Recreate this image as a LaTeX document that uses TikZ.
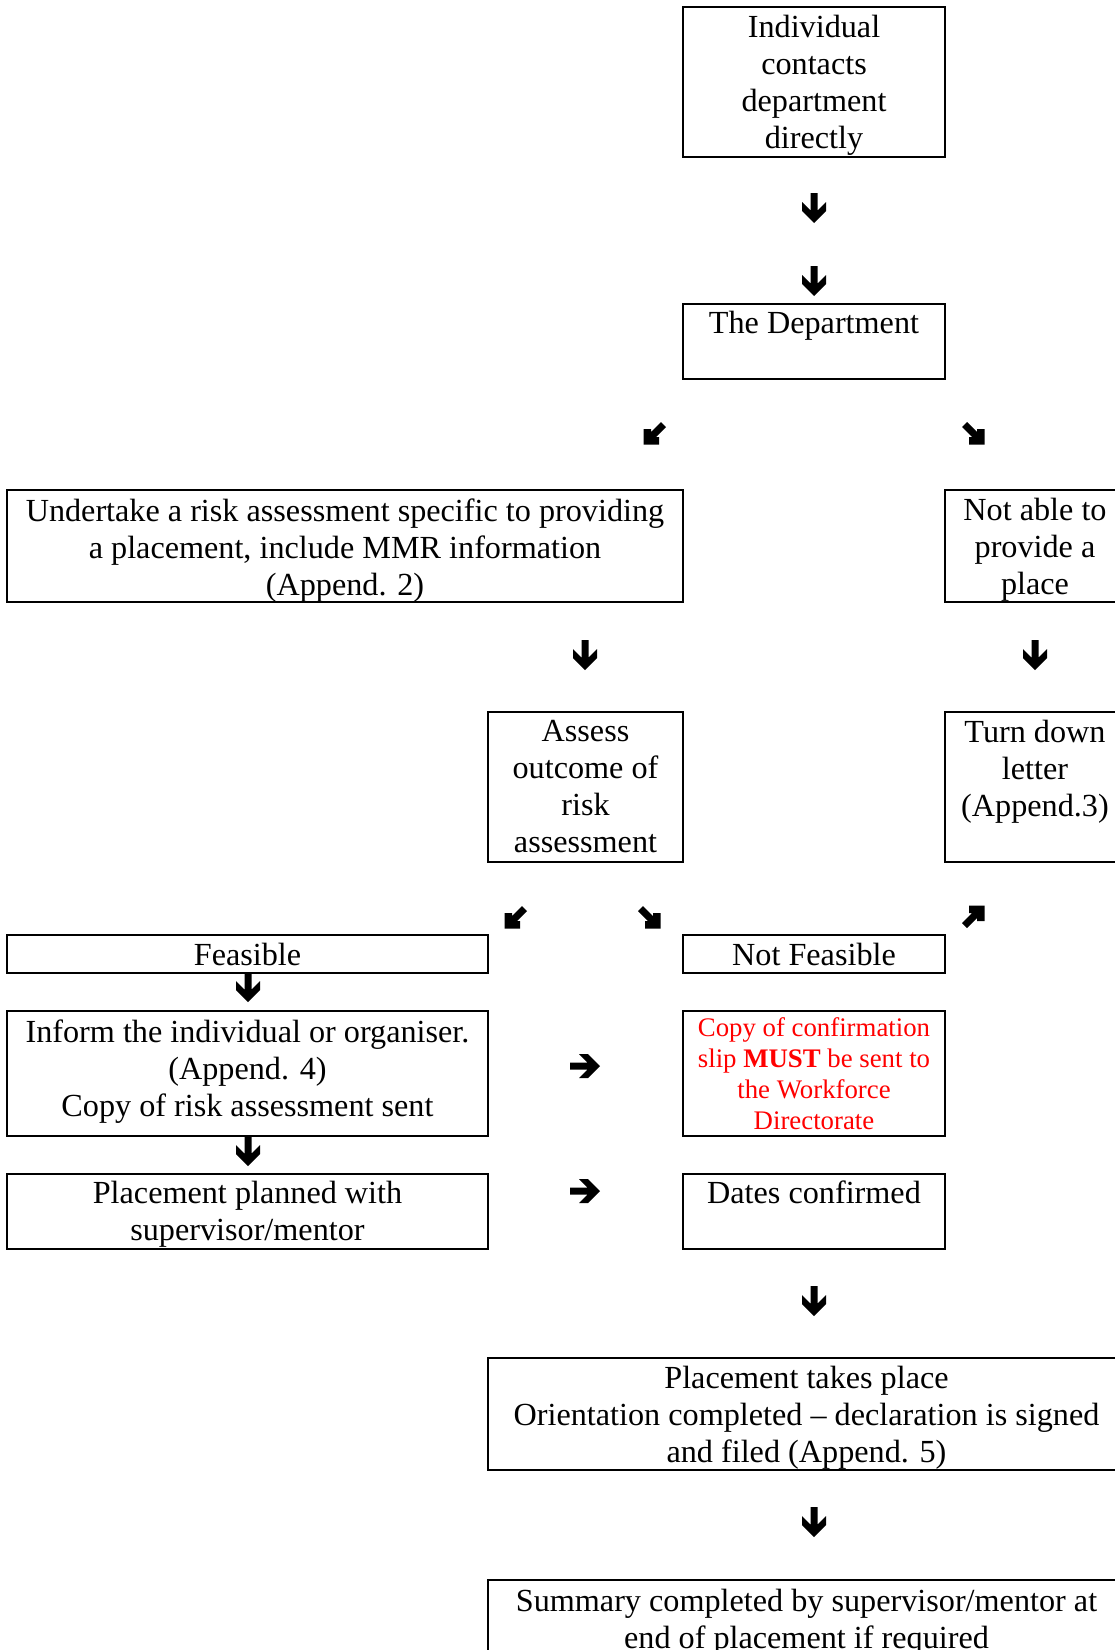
\documentclass[tikz,border=0pt]{standalone}
\usepackage{fontspec}
\setmainfont{Liberation Serif}
\definecolor{alertred}{RGB}{255,0,0}
\begin{document}
\begin{tikzpicture}[x=1pt,y=1pt,
  box/.style={draw=black, line width=2pt, rectangle, inner sep=0pt, outer sep=0pt},
  txt/.style={anchor=north, inner sep=0pt, align=center, font=\fontsize{32.2}{37}\selectfont, execute at begin node=\strut},
  redtxt/.style={anchor=north, inner sep=0pt, align=center, text=alertred, font=\fontsize{26.8}{30.8}\selectfont, execute at begin node=\strut},
  darr/.pic={\fill[black] (-3.5,15) -- (3.5,15) -- (3.5,-2.5) -- (12,6) -- (12,-3) -- (0,-15) -- (-12,-3) -- (-12,6) -- (-3.5,-2.5) -- cycle;},
  narr/.pic={\fill[black] (11.5,11.5) -- (-4,11.5) -- (-4,4) -- (-1,4) -- (-11,-6) -- (-6,-11) -- (4,-1) -- (4,-4) -- (11.5,-4) -- cycle;}
]
\useasboundingbox (0,0) rectangle (1115,-1650);
\clip (0,0) rectangle (1115,-1650);

% boxes
\node[box, minimum width=262, minimum height=150] (b1) at (814,-82) {};
\node[box, minimum width=262, minimum height=75] (b2) at (814,-341.5) {};
\node[box, minimum width=676, minimum height=112] (b3) at (345,-546) {};
\node[box, minimum width=180, minimum height=112] (b4) at (1035,-546) {};
\node[box, minimum width=195, minimum height=150] (b5) at (585.5,-787) {};
\node[box, minimum width=180, minimum height=150] (b6) at (1035,-787) {};
\node[box, minimum width=481, minimum height=38] (b7) at (247.5,-954) {};
\node[box, minimum width=262, minimum height=38] (b8) at (814,-954) {};
\node[box, minimum width=481, minimum height=125] (b9) at (247.5,-1073.5) {};
\node[box, minimum width=262, minimum height=125] (b10) at (814,-1073.5) {};
\node[box, minimum width=481, minimum height=75] (b11) at (247.5,-1211.5) {};
\node[box, minimum width=262, minimum height=75] (b12) at (814,-1211.5) {};
\node[box, minimum width=637, minimum height=112] (b13) at (806.5,-1414) {};
\node[box, minimum width=637, minimum height=120] (b14) at (806.5,-1640) {};

% texts
\node[txt] (t1) at ([yshift=-8.4pt]b1.north) {Individual\\contacts\\department\\directly};
\node[txt] (t2) at ([yshift=-3.6pt]b2.north) {The Department};
\node[txt] (t3) at ([yshift=-8.2pt]b3.north) {Undertake a risk assessment specific to providing\\a placement, include MMR information\\(Append. 2)};
\node[txt] (t4) at ([yshift=-8.2pt]b4.north) {Not able to\\provide a\\place};
\node[txt] (t5) at ([yshift=-8.2pt]b5.north) {Assess\\outcome of\\risk\\assessment};
\node[txt] (t6) at ([yshift=-8.2pt]b6.north) {Turn down\\letter\\(Append.3)};
\node[txt] (t7) at ([yshift=-4.2pt]b7.north) {Feasible};
\node[txt] (t8) at ([yshift=-4.2pt]b8.north) {Not Feasible};
\node[txt] (t9) at ([yshift=-8.2pt]b9.north) {Inform the individual or organiser.\\(Append. 4)\\Copy of risk assessment sent};
\node[redtxt] (t10) at ([yshift=-6.6pt]b10.north) {Copy of confirmation\\slip \textbf{MUST} be sent to\\the Workforce\\Directorate};
\node[txt] (t11) at ([yshift=-7pt]b11.north) {Placement planned with\\supervisor/mentor};
\node[txt] (t12) at ([yshift=-3.6pt]b12.north) {Dates confirmed};
\node[txt] (t13) at ([yshift=-8pt]b13.north) {Placement takes place\\Orientation completed \textendash{} declaration is signed\\and filed (Append. 5)};
\node[txt] (t14) at ([yshift=-8.6pt]b14.north) {Summary completed by supervisor/mentor at\\end of placement if required};

% arrow glyphs
\pic at (814,-208) {darr};
\pic at (814,-281) {darr};
\pic[rotate=180] at (655,-433) {narr};
\pic[rotate=-90] at (973,-433) {narr};
\pic at (585,-655) {darr};
\pic at (1035,-655) {darr};
\pic[rotate=180] at (516,-917) {narr};
\pic[rotate=-90] at (649,-917) {narr};
\pic at (973,-917) {narr};
\pic at (248,-987) {darr};
\pic[rotate=90] at (585,-1066) {darr};
\pic at (248,-1151) {darr};
\pic[rotate=90] at (585,-1191) {darr};
\pic at (814,-1301) {darr};
\pic at (814,-1522) {darr};
\end{tikzpicture}
\end{document}
